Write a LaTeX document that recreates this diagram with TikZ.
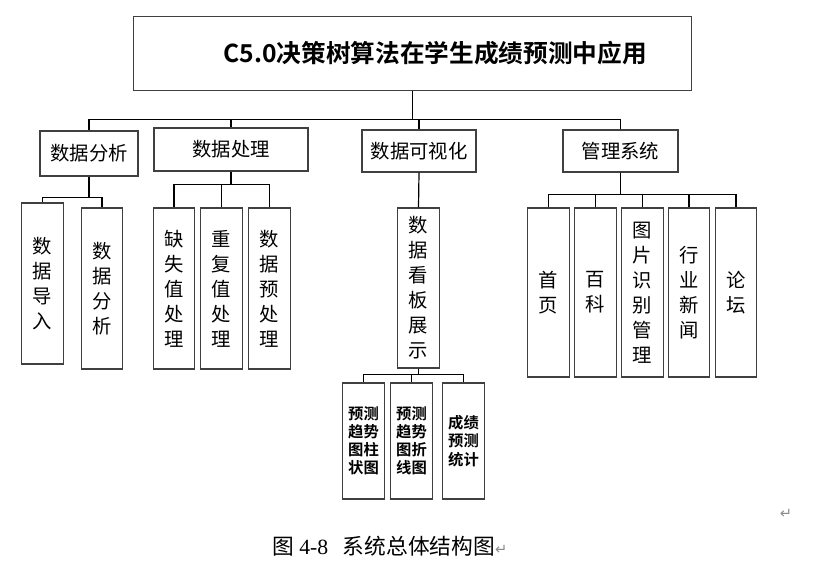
\documentclass[tikz,border=0pt]{standalone}
\usepackage{fontspec}
\setmainfont{Liberation Serif}
\newfontfamily\cjk[BoldFont={Noto Sans CJK SC Bold}]{Noto Sans CJK SC}
\newfontfamily\symfont{DejaVu Sans}

\begin{document}
\begin{tikzpicture}[x=0.75pt, y=-0.75pt,
        box/.style={rectangle, draw=black!75, line width=0.9pt, inner sep=0pt, align=center,
            font=\cjk\fontsize{14.5}{18.75}\selectfont},
        vbox/.style={box, minimum width=31pt, minimum height=120.75pt},
        sbox/.style={box, minimum width=31pt, minimum height=87pt,
            font=\cjk\bfseries\fontsize{11.5}{13.6}\selectfont},
        link/.style={draw=black, line width=0.9pt}
    ]
        \useasboundingbox (0,0) rectangle (817,568);

        \node[box, minimum width=419pt, minimum height=56pt, font=\cjk\bfseries\fontsize{18.5}{22}\selectfont] (root) at (412.5,53.5) {\hspace*{34pt}C5.0决策树算法在学生成绩预测中应用};

        \node[box, minimum width=73.5pt, minimum height=33.75pt] (fx) at (89,153.5) {数据分析};
        \node[box, minimum width=115.5pt, minimum height=32.25pt] (cl) at (231,149.5) {数据处理};
        \node[box, minimum width=85.5pt, minimum height=31.5pt] (ks) at (419,151) {数据可视化};
        \node[box, minimum width=86.25pt, minimum height=31.5pt] (gl) at (620.5,151) {管理系统};

        \node[vbox] (dr) at (42.5,283.5) {数\\据\\导\\入};
        \node[vbox] (fx2) at (102,288.5) {数\\据\\分\\析};
        \node[vbox] (qs) at (174,288.5) {缺\\失\\值\\处\\理};
        \node[vbox] (cf) at (221.5,288.5) {重\\复\\值\\处\\理};
        \node[vbox] (yc) at (269.5,288.5) {数\\据\\预\\处\\理};
        \node[vbox, minimum height=120pt] (kb) at (418.5,288) {数\\据\\看\\板\\展\\示};

        \node[vbox, minimum height=126.75pt] (sy) at (548.5,292.5) {首\\页};
        \node[vbox, minimum height=126.75pt] (bk) at (595.5,292.5) {百\\科};
        \node[vbox, minimum height=126.75pt] (tp) at (642.5,292.5) {图\\片\\识\\别\\管\\理};
        \node[vbox, minimum height=126.75pt] (hy) at (689,292.5) {行\\业\\新\\闻};
        \node[vbox, minimum height=126.75pt] (lt) at (736,292.5) {论\\坛};

        \node[sbox] (zz) at (363.5,441) {预测\\趋势\\图柱\\状图};
        \node[sbox] (zx) at (411.5,441) {预测\\趋势\\图折\\线图};
        \node[sbox] (tj) at (463.5,441) {成绩\\预测\\统计};

        % connectors
        \foreach \child in {fx, cl, ks, gl}
            \draw[link] (root.south) -- ++(0,28) -| (\child.north);
        \foreach \child in {dr, fx2}
            \draw[link] (fx.south) -- ++(0,21) -| (\child.north);
        \foreach \child in {qs, cf, yc}
            \draw[link] (cl.south) -- ++(0,13) -| (\child.north);
        \draw[link] (ks.south) -- (kb.north);
        \foreach \child in {sy, bk, tp, hy, lt}
            \draw[link] (gl.south) -- ++(0,22) -| (\child.north);
        \foreach \child in {zz, zx, tj}
            \draw[link] (kb.south) -- ++(0,6) -| (\child.north);

        \node[anchor=west, inner sep=0pt, font=\fontsize{16.3}{19}\selectfont] (cap) at (272,546)
            {{\cjk 图}\hspace{4pt}4-8\hspace{11pt}{\cjk 系统总体结构图}{\symfont\color{black!45}\fontsize{11}{13}\selectfont ↵}};
        \node[inner sep=0pt, text=black!45, font=\symfont\fontsize{11}{13}\selectfont] (mark) at (786,514) {↵};
    \end{tikzpicture}
\end{document}
